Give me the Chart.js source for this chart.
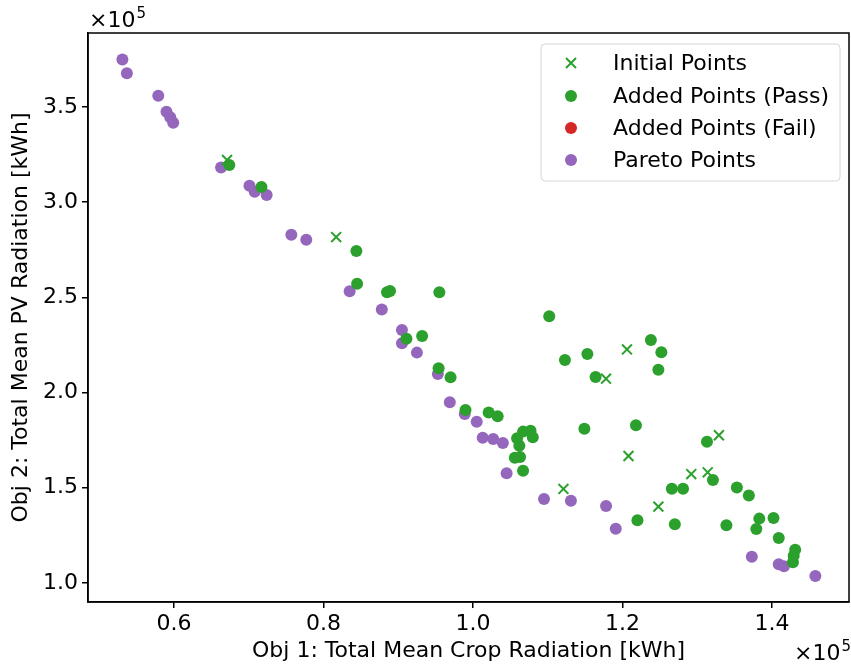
<!DOCTYPE html>
<html>
<head>
<meta charset="utf-8">
<script src="https://cdn.jsdelivr.net/npm/chart.js@4/dist/chart.umd.min.js"></script>
<style>
  body { margin: 0; background: #fff; }
  canvas { display: block; }
</style>
</head>
<body>
<canvas id="paretoChart" width="851" height="666"></canvas>
<script>
// objective values in units of 1e5 kWh
const initialCrop = [0.671, 0.817, 1.121, 1.178, 1.206, 1.208, 1.248, 1.292, 1.314, 1.329];
const initialPV   = [3.222, 2.817, 1.494, 2.073, 2.227, 1.667, 1.401, 1.572, 1.581, 1.776];

const passCrop = [0.674, 0.717, 0.844, 0.845, 0.885, 0.889, 0.955, 0.911, 0.932, 1.102,
                  0.954, 0.970, 0.990, 1.021, 1.033, 1.059, 1.067, 1.077, 1.080, 1.062,
                  1.056, 1.063, 1.067, 1.123, 1.153, 1.164, 1.238, 1.252, 1.248, 1.149,
                  1.218, 1.313, 1.321, 1.266, 1.281, 1.353, 1.369, 1.220, 1.270, 1.339,
                  1.383, 1.379, 1.402, 1.409, 1.431, 1.429, 1.428];
const passPV   = [3.195, 3.080, 2.744, 2.572, 2.527, 2.534, 2.527, 2.283, 2.297, 2.401,
                  2.128, 2.080, 1.909, 1.896, 1.876, 1.760, 1.795, 1.800, 1.765, 1.721,
                  1.658, 1.662, 1.590, 2.171, 2.203, 2.082, 2.276, 2.212, 2.120, 1.810,
                  1.828, 1.742, 1.541, 1.495, 1.495, 1.501, 1.459, 1.329, 1.308, 1.303,
                  1.338, 1.284, 1.341, 1.236, 1.175, 1.143, 1.109];

const failCrop = [];
const failPV   = [];

const paretoCrop = [0.531, 0.537, 0.579, 0.590, 0.595, 0.599, 0.663, 0.701, 0.708, 0.724,
                    0.757, 0.777, 0.835, 0.878, 0.905, 0.905, 0.925, 0.953, 0.969, 0.989,
                    1.005, 1.013, 1.027, 1.040, 1.045, 1.095, 1.131, 1.178, 1.191, 1.373,
                    1.409, 1.416, 1.458];
const paretoPV   = [3.750, 3.677, 3.559, 3.475, 3.446, 3.418, 3.183, 3.087, 3.055, 3.038,
                    2.829, 2.803, 2.532, 2.437, 2.329, 2.259, 2.210, 2.098, 1.949, 1.888,
                    1.847, 1.763, 1.756, 1.735, 1.576, 1.441, 1.432, 1.404, 1.285, 1.138,
                    1.098, 1.088, 1.037];

const xTicks = [0.6, 0.8, 1.0, 1.2, 1.4];
const yTicks = [1.0, 1.5, 2.0, 2.5, 3.0, 3.5];

const FONT = "'DejaVu Sans', sans-serif";
const GREEN = "#2ca02c", RED = "#d62728", PURPLE = "#9467bd";

function toPoints(xs, ys) {
    return xs.map((x, i) => ({ x: x, y: ys[i] }));
}

// frame, offset labels and an in-axes legend
const extras = {
    id: "extras",
    afterDraw(chart) {
        const ctx = chart.ctx;
        const a = chart.chartArea;
        ctx.save();
        ctx.strokeStyle = "#000";
        ctx.lineWidth = 1.5;
        ctx.strokeRect(a.left, a.top, a.right - a.left, a.bottom - a.top);

        ctx.fillStyle = "#000";
        ctx.textBaseline = "alphabetic";
        ctx.textAlign = "left";
        ctx.font = "22px " + FONT;
        ctx.fillText("\u00d710", a.left + 1, 27);
        let w = ctx.measureText("\u00d710").width;
        ctx.font = "15px " + FONT;
        ctx.fillText("5", a.left + 1 + w + 1, 18);

        ctx.font = "15px " + FONT;
        const sw = ctx.measureText("5").width;
        ctx.textAlign = "right";
        ctx.fillText("5", 851, 651);
        ctx.font = "22px " + FONT;
        ctx.fillText("\u00d710", 851 - sw - 1, 660);

        // legend box
        const bx = 541, by = 44, bw = 299, bh = 137;
        ctx.beginPath();
        ctx.roundRect(bx, by, bw, bh, 4);
        ctx.fillStyle = "rgba(255,255,255,0.8)";
        ctx.fill();
        ctx.strokeStyle = "#d6d6d6";
        ctx.lineWidth = 1;
        ctx.stroke();

        const rows = [63, 96, 128, 160];
        chart.data.datasets.forEach((ds, i) => {
            const cy = rows[i], cx = 571;
            if (ds.pointStyle === "crossRot") {
                ctx.strokeStyle = ds.borderColor;
                ctx.lineWidth = 2;
                ctx.beginPath();
                ctx.moveTo(cx - 5, cy - 5); ctx.lineTo(cx + 5, cy + 5);
                ctx.moveTo(cx + 5, cy - 5); ctx.lineTo(cx - 5, cy + 5);
                ctx.stroke();
            } else {
                ctx.fillStyle = ds.backgroundColor;
                ctx.beginPath();
                ctx.arc(cx, cy, 6, 0, Math.PI * 2);
                ctx.fill();
            }
            ctx.fillStyle = "#000";
            ctx.font = "22px " + FONT;
            ctx.textAlign = "left";
            ctx.textBaseline = "middle";
            ctx.fillText(ds.label, 613, cy + 1);
        });
        ctx.restore();
    }
};

new Chart(document.getElementById("paretoChart"), {
    type: "scatter",
    data: {
        datasets: [
            {
                label: "Initial Points",
                data: toPoints(initialCrop, initialPV),
                pointStyle: "crossRot",
                pointRadius: 7,
                borderColor: GREEN,
                backgroundColor: GREEN,
                pointBorderWidth: 2,
                order: 2
            },
            {
                label: "Added Points (Pass)",
                data: toPoints(passCrop, passPV),
                pointStyle: "circle",
                pointRadius: 6,
                borderWidth: 0,
                backgroundColor: GREEN,
                borderColor: GREEN,
                order: 1
            },
            {
                label: "Added Points (Fail)",
                data: toPoints(failCrop, failPV),
                pointStyle: "circle",
                pointRadius: 6,
                borderWidth: 0,
                backgroundColor: RED,
                borderColor: RED,
                order: 0
            },
            {
                label: "Pareto Points",
                data: toPoints(paretoCrop, paretoPV),
                pointStyle: "circle",
                pointRadius: 6,
                borderWidth: 0,
                backgroundColor: PURPLE,
                borderColor: PURPLE,
                order: 3
            }
        ]
    },
    options: {
        responsive: false,
        animation: false,
        layout: { autoPadding: false, padding: { top: 33, right: 2, left: 0, bottom: 0 } },
        plugins: {
            legend: { display: false },
            tooltip: { enabled: false }
        },
        scales: {
            x: {
                type: "linear",
                min: 0.485,
                max: 1.503,
                afterBuildTicks: axis => { axis.ticks = xTicks.map(v => ({ value: v })); },
                afterFit: axis => { axis.height = 64; },
                grid: { display: true, drawOnChartArea: false, drawTicks: true, tickLength: 6, color: "#000", lineWidth: 1.5 },
                border: { display: true, color: "#000", width: 1.5 },
                ticks: {
                    color: "#000",
                    font: { family: FONT, size: 22 },
                    padding: 3,
                    maxRotation: 0,
                    callback: v => v.toFixed(1)
                },
                title: {
                    display: true,
                    text: "Obj 1: Total Mean Crop Radiation [kWh]",
                    color: "#000",
                    font: { family: FONT, size: 22 },
                    padding: { top: 0, bottom: 2 }
                }
            },
            y: {
                type: "linear",
                min: 0.900,
                max: 3.889,
                afterBuildTicks: axis => { axis.ticks = yTicks.map(v => ({ value: v })); },
                afterFit: axis => { axis.width = 88; },
                grid: { display: true, drawOnChartArea: false, drawTicks: true, tickLength: 6, color: "#000", lineWidth: 1.5 },
                border: { display: true, color: "#000", width: 1.5 },
                ticks: {
                    color: "#000",
                    font: { family: FONT, size: 22 },
                    padding: 4,
                    callback: v => v.toFixed(1)
                },
                title: {
                    display: true,
                    text: "Obj 2: Total Mean PV Radiation [kWh]",
                    color: "#000",
                    font: { family: FONT, size: 22 },
                    padding: { top: 8, bottom: 0 }
                }
            }
        }
    },
    plugins: [extras]
});
</script>
</body>
</html>
